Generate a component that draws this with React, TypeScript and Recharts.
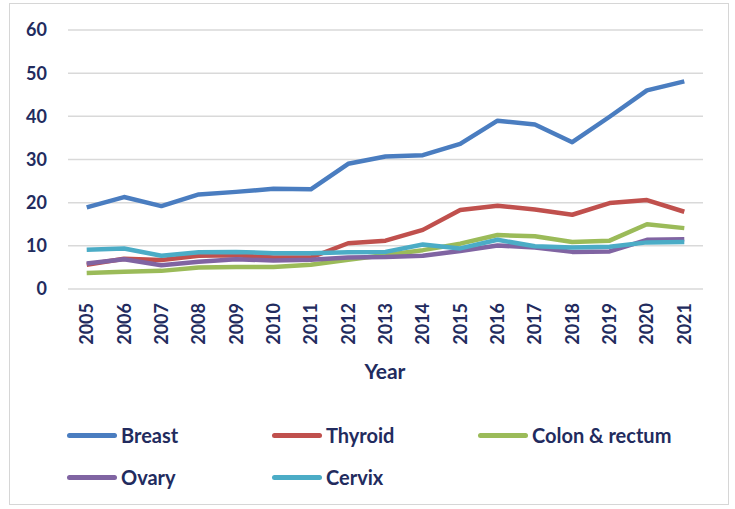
import React from 'react'
import { LineChart, Line, XAxis, YAxis, CartesianGrid } from 'recharts'

const years = ['2005', '2006', '2007', '2008', '2009', '2010', '2011', '2012', '2013', '2014', '2015', '2016', '2017', '2018', '2019', '2020', '2021']
const breast = [18.9, 21.3, 19.2, 21.9, 22.5, 23.2, 23.1, 29.0, 30.7, 31.0, 33.6, 39.0, 38.1, 34.0, 39.9, 46.0, 48.1]
const thyroid = [5.6, 7.0, 6.7, 7.7, 7.8, 7.3, 7.3, 10.6, 11.2, 13.7, 18.3, 19.3, 18.4, 17.2, 19.9, 20.6, 17.9]
const colon = [3.7, 4.0, 4.2, 5.0, 5.1, 5.1, 5.6, 6.8, 7.9, 9.0, 10.5, 12.5, 12.2, 10.9, 11.2, 15.0, 14.1]
const ovary = [5.9, 6.9, 5.5, 6.3, 6.9, 6.6, 6.8, 7.3, 7.4, 7.7, 8.8, 10.1, 9.6, 8.6, 8.7, 11.4, 11.5]
const cervix = [9.1, 9.4, 7.7, 8.5, 8.6, 8.3, 8.3, 8.5, 8.6, 10.3, 9.4, 11.4, 9.9, 9.6, 9.8, 10.8, 10.9]
const yTicks = [0, 10, 20, 30, 40, 50, 60]

const series = [
  { key: 'breast', name: 'Breast', color: '#4a7dc0' },
  { key: 'thyroid', name: 'Thyroid', color: '#c0504d' },
  { key: 'colon', name: 'Colon & rectum', color: '#9bbb59' },
  { key: 'ovary', name: 'Ovary', color: '#8064a2' },
  { key: 'cervix', name: 'Cervix', color: '#4bacc6' },
]

const data = years.map((year, i) => ({
  year,
  breast: breast[i],
  thyroid: thyroid[i],
  colon: colon[i],
  ovary: ovary[i],
  cervix: cervix[i],
}))

const NAVY = '#222b5e'
const FONT = 'Lato, "Open Sans", sans-serif'

const YearTick = (props: any) => {
  const { x, y, payload } = props
  return (
    <g transform={`translate(${x},${y})`}>
      <text
        transform="rotate(-90)"
        textAnchor="end"
        dy="0.36em"
        fill={NAVY}
        fontFamily={FONT}
        fontWeight={700}
        fontSize={18}
      >
        {payload.value}
      </text>
    </g>
  )
}

// legend slots: 3 per row
const legendCols = [67, 272, 478]
const legendRows = [435, 477]

export default function App() {
  return (
    <div style={{ position: 'absolute', left: 0, top: 0, width: 735, height: 509, background: '#fff' }}>
      <div
        style={{
          position: 'absolute',
          left: 9,
          top: 3,
          width: 720,
          height: 502,
          border: '1.5px solid #d6d6d6',
          boxSizing: 'border-box',
        }}
      />
      <LineChart width={735} height={509} data={data} margin={{ top: 30, right: 32, left: 0, bottom: 160 }}>
        <CartesianGrid vertical={false} stroke="#d9d9d9" strokeWidth={1.5} />
        <XAxis
          dataKey="year"
          scale="point"
          padding={{ left: 18.7, right: 18.7 }}
          axisLine={false}
          tickLine={false}
          tickSize={0}
          tickMargin={14}
          height={60}
          interval={0}
          tick={<YearTick />}
        />
        <YAxis
          domain={[0, 60]}
          ticks={yTicks}
          width={68}
          axisLine={false}
          tickLine={false}
          tickSize={0}
          tickMargin={21}
          tick={{ fill: NAVY, fontFamily: FONT, fontWeight: 700, fontSize: 18 }}
        />
        {series.map((s) => (
          <Line
            key={s.key}
            type="linear"
            dataKey={s.key}
            name={s.name}
            stroke={s.color}
            strokeWidth={4.5}
            strokeLinejoin="round"
            dot={false}
            activeDot={false}
            isAnimationActive={false}
          />
        ))}
      </LineChart>
      <div
        style={{
          position: 'absolute',
          left: 0,
          width: 770,
          top: 358,
          textAlign: 'center',
          color: NAVY,
          fontFamily: FONT,
          fontWeight: 700,
          fontSize: 21,
        }}
      >
        Year
      </div>
      {series.map((s, i) => (
        <div
          key={s.key}
          style={{
            position: 'absolute',
            left: legendCols[i % 3],
            top: legendRows[Math.floor(i / 3)] - 14,
            height: 28,
            display: 'flex',
            alignItems: 'center',
            color: NAVY,
            fontFamily: FONT,
            fontWeight: 700,
            fontSize: 20,
            whiteSpace: 'nowrap',
          }}
        >
          <span style={{ display: 'inline-block', width: 50, height: 5, borderRadius: 3, background: s.color, marginRight: 4 }} />
          {s.name}
        </div>
      ))}
    </div>
  )
}
